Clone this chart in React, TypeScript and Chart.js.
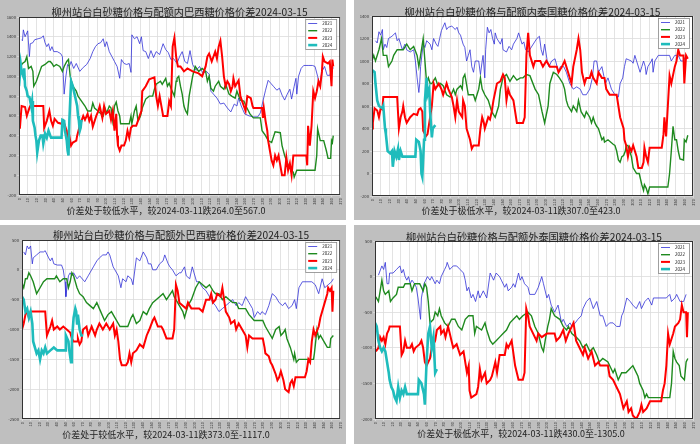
import React, { useEffect, useRef } from "react";
import { Chart, registerables } from "chart.js";
Chart.register(...registerables);

// ---------- shared categories ----------
const SERIES_NAMES = ["2021", "2022", "2023", "2024"];
const SERIES_COLORS = ["rgba(50,50,215,0.8)", "#1f8a1f", "#ff0000", "#1fbcbc"];
const SERIES_WIDTHS = [1, 1.4, 2, 2.6];
const X_MIN = 0;
const X_MAX = 370;
const X_STEP = 10;

const TITLES = [
  "柳州站台白砂糖价格与配额内巴西糖价格价差2024-03-15",
  "柳州站台白砂糖价格与配额内泰国糖价格价差2024-03-15",
  "柳州站台白砂糖价格与配额外巴西糖价格价差2024-03-15",
  "柳州站台白砂糖价格与配额外泰国糖价格价差2024-03-15",
];
const NOTES = [
  "价差处于较低水平，较2024-03-11跌264.0至567.0",
  "价差处于极低水平，较2024-03-11跌307.0至423.0",
  "价差处于较低水平，较2024-03-11跌373.0至-1117.0",
  "价差处于极低水平，较2024-03-11跌430.0至-1305.0",
];
const Y_RANGES = [
  [-200, 1600, 200],
  [-200, 1400, 200],
  [-2500, 500, 500],
  [-2000, 500, 500],
];

// ---------- data: [day of year, spread] ----------
const TL_2021 = [[3,1370],[4,1360],[5,1470],[7,1400],[9,1440],[10,1460],[12,1200],[13,1330],[16,1340],[18,1370],[22,1380],[26,1390],[28,1410],[30,1340],[32,1300],[34,1330],[36,1260],[38,1300],[40,1250],[44,1250],[48,1230],[50,1200],[52,820],[54,1000],[56,1120],[58,1100],[60,1150],[63,1080],[66,1130],[70,1050],[74,1090],[78,1120],[82,1180],[85,1250],[88,1300],[91,1330],[94,1340],[97,1380],[99,1300],[101,1350],[104,1250],[107,1200],[110,1150],[113,1100],[116,980],[118,1170],[121,1130],[124,1120],[127,1130],[129,1040],[130,1420],[133,1380],[136,1400],[139,1330],[141,1400],[143,1260],[146,1250],[149,1180],[152,1260],[155,1190],[158,1250],[162,1220],[166,1330],[169,1270],[172,1240],[175,1170],[178,1180],[182,1130],[185,1200],[188,1250],[191,1150],[194,1130],[197,1260],[200,1120],[204,1060],[208,1100],[212,1030],[216,1050],[219,1020],[221,850],[224,820],[228,780],[232,720],[236,730],[240,680],[244,640],[248,720],[251,700],[253,780],[256,700],[260,620],[265,600],[270,590],[275,590],[278,630],[281,750],[284,860],[287,960],[290,930],[293,900],[297,860],[300,880],[303,810],[306,760],[309,820],[312,870],[314,770],[317,900],[319,980],[320,820],[322,1000],[325,1080],[328,1110],[333,1110],[338,1110],[341,1100],[344,1000],[346,900],[349,1050],[352,1100],[355,1010],[358,1010],[361,1100],[362,1080]];
const TL_2022 = [[0,1000],[2,1100],[4,1130],[7,1150],[9,1200],[11,1080],[14,1100],[16,1050],[17,900],[20,950],[22,1000],[24,1050],[26,1100],[30,1120],[34,1150],[36,1150],[38,1130],[40,1100],[43,1120],[47,1100],[50,1050],[52,1100],[55,1150],[57,1170],[59,1000],[62,900],[66,850],[68,800],[72,750],[76,700],[79,650],[83,650],[85,730],[87,680],[91,650],[97,600],[99,680],[101,630],[104,700],[106,680],[108,550],[110,700],[112,740],[114,650],[116,600],[117,520],[127,520],[129,600],[130,520],[133,650],[135,700],[137,550],[138,560],[140,600],[142,680],[146,770],[150,800],[154,800],[156,870],[158,920],[163,950],[165,920],[169,980],[171,900],[173,930],[175,880],[179,800],[181,950],[182,980],[184,1000],[186,900],[188,820],[190,700],[192,650],[194,620],[196,800],[200,1000],[203,1100],[207,1050],[211,1080],[215,1050],[217,950],[219,1000],[221,880],[224,850],[226,900],[230,950],[232,900],[236,870],[238,920],[242,820],[245,800],[249,780],[251,850],[255,760],[259,750],[262,690],[266,620],[270,580],[278,580],[280,450],[284,400],[287,350],[291,330],[295,440],[301,430],[303,300],[306,200],[308,150],[310,100],[314,50],[316,30],[317,-20],[320,50],[341,50],[343,200],[344,470],[347,350],[351,350],[354,250],[356,170],[359,170],[360,350],[361,330],[362,400]];
const TL_2023 = [[1,470],[3,700],[7,690],[9,600],[12,680],[13,700],[28,700],[29,480],[32,550],[35,650],[37,550],[39,500],[41,570],[45,530],[49,520],[51,550],[53,500],[55,450],[56,350],[58,400],[60,300],[62,330],[66,350],[67,400],[70,500],[72,550],[74,600],[76,560],[79,620],[81,550],[83,600],[85,490],[89,600],[91,640],[93,700],[95,620],[96,580],[98,700],[100,620],[104,650],[106,560],[108,650],[110,450],[112,620],[113,400],[114,300],[116,250],[118,300],[121,300],[123,350],[125,450],[127,380],[129,480],[131,500],[135,500],[137,550],[139,600],[141,650],[142,850],[146,900],[150,970],[156,990],[158,800],[160,700],[162,800],[163,750],[165,650],[166,600],[171,600],[173,750],[175,700],[177,1300],[179,1390],[181,1200],[183,1100],[186,1100],[190,1050],[194,1080],[200,1050],[207,1030],[211,1000],[213,1050],[215,1100],[217,1200],[219,1230],[222,1150],[226,1250],[228,1180],[230,1300],[232,1360],[234,1200],[236,1000],[238,900],[240,950],[242,920],[244,850],[246,900],[247,980],[249,900],[253,960],[255,800],[257,750],[259,700],[261,650],[263,800],[267,780],[269,700],[270,680],[280,680],[281,580],[282,680],[284,550],[286,450],[287,350],[289,250],[291,150],[293,100],[295,200],[297,150],[299,200],[301,100],[303,0],[306,0],[308,180],[310,50],[312,120],[314,0],[316,200],[331,200],[332,100],[333,500],[335,300],[337,500],[339,850],[341,780],[343,850],[345,950],[347,900],[349,1050],[350,1200],[352,1150],[356,1130],[358,1150],[360,900],[361,1170],[362,1100]];
const TL_2024 = [[0,900],[2,1120],[3,1050],[5,1000],[6,1080],[7,900],[9,850],[10,800],[12,790],[14,700],[15,750],[16,550],[18,480],[19,400],[20,350],[21,230],[23,350],[25,400],[27,400],[28,320],[30,420],[32,380],[34,450],[36,400],[37,380],[49,380],[50,560],[52,550],[53,450],[55,350],[56,250],[57,200],[58,550],[60,950],[62,900],[64,820],[65,780],[67,700],[68,600],[69,550],[70,450],[71,480],[72,560]];

const TR_2021 = [[4,1180],[6,1160],[8,1260],[10,1230],[12,1280],[13,1100],[15,1150],[17,1120],[19,1200],[23,1220],[27,1250],[29,1180],[31,1200],[33,1150],[35,1100],[38,1150],[40,1100],[44,1080],[48,1100],[50,1000],[52,850],[54,720],[55,800],[56,950],[59,1150],[61,1120],[63,1180],[67,1150],[69,1100],[71,1200],[74,1150],[76,1130],[78,1200],[80,1270],[84,1340],[86,1280],[88,1300],[92,1310],[96,1280],[98,1300],[100,1250],[102,1230],[105,1150],[107,1120],[109,1000],[111,1050],[113,1100],[115,950],[117,900],[119,1000],[123,1000],[125,880],[127,1000],[128,1050],[130,850],[131,1100],[133,1300],[135,1250],[137,1280],[139,1200],[141,1150],[142,1250],[144,1200],[148,1150],[150,1200],[151,1100],[155,1080],[158,1130],[161,1100],[163,1150],[167,1200],[169,1250],[171,1200],[173,1150],[175,1170],[177,1100],[180,1080],[190,1200],[193,1220],[195,1100],[197,1050],[199,1150],[202,1000],[204,950],[207,1000],[211,1020],[215,900],[217,950],[221,950],[224,900],[226,850],[228,800],[232,750],[236,770],[240,750],[243,700],[247,700],[251,750],[254,850],[256,1000],[259,1000],[261,900],[265,950],[269,800],[272,850],[276,750],[280,700],[284,680],[286,800],[289,850],[291,950],[293,1020],[299,1000],[301,980],[303,1050],[305,1000],[309,900],[311,950],[313,1000],[315,950],[316,880],[318,950],[322,1000],[323,1020],[324,900],[326,1000],[330,1050],[343,1050],[345,1000],[349,1050],[353,1050],[356,1000],[359,1000],[362,1050]];
const TR_2022 = [[0,1000],[2,1050],[4,1000],[8,1100],[11,1200],[13,1050],[17,1050],[19,950],[23,1000],[25,1050],[29,1100],[33,1100],[36,1100],[40,1150],[44,1100],[48,1130],[52,1050],[54,950],[56,1050],[58,1150],[59,1200],[61,1000],[63,800],[65,850],[67,800],[69,800],[73,850],[76,780],[79,800],[82,780],[86,700],[90,680],[94,750],[96,700],[98,750],[102,780],[104,750],[105,850],[107,880],[111,700],[117,700],[119,650],[121,700],[123,750],[125,850],[127,750],[130,700],[134,650],[138,550],[142,500],[146,600],[148,750],[151,850],[155,880],[159,820],[163,870],[167,830],[171,850],[174,850],[178,880],[182,870],[188,750],[192,700],[196,550],[199,450],[203,600],[205,800],[209,900],[213,880],[216,850],[220,800],[222,750],[224,650],[226,600],[230,550],[232,600],[236,550],[238,650],[241,550],[245,500],[247,550],[251,500],[253,450],[255,500],[257,450],[259,420],[261,400],[263,350],[265,300],[267,320],[268,280],[272,300],[278,260],[280,250],[282,200],[284,120],[286,100],[288,150],[290,160],[292,200],[293,250],[295,250],[297,200],[299,150],[301,50],[305,0],[308,0],[311,-100],[313,-150],[314,-100],[316,-130],[318,-180],[320,-120],[341,-120],[343,0],[345,200],[347,420],[349,300],[351,300],[353,200],[355,130],[359,120],[360,300],[362,280],[364,340]];
const TR_2023 = [[0,400],[1,450],[3,580],[6,560],[8,500],[10,580],[12,570],[13,680],[29,680],[31,400],[33,500],[35,550],[36,600],[38,500],[40,450],[44,500],[48,530],[52,520],[54,570],[56,580],[58,550],[59,380],[61,350],[62,330],[64,350],[67,500],[69,600],[71,800],[73,750],[77,800],[80,750],[82,700],[86,800],[88,750],[92,680],[94,600],[96,500],[98,650],[100,550],[104,500],[105,650],[107,600],[109,400],[113,300],[115,220],[117,250],[123,250],[125,400],[127,500],[129,450],[130,400],[132,450],[134,500],[136,480],[138,550],[140,650],[144,800],[148,820],[151,880],[153,850],[155,650],[157,750],[159,700],[163,650],[165,550],[167,450],[174,450],[176,500],[178,1050],[180,1250],[182,1050],[186,950],[188,1000],[194,1000],[197,950],[201,1000],[205,950],[213,950],[215,900],[219,950],[222,1000],[224,950],[226,900],[230,800],[232,950],[236,1100],[238,1200],[240,1100],[242,900],[245,800],[247,850],[251,850],[253,900],[255,850],[259,800],[261,900],[265,850],[268,850],[270,750],[274,700],[282,700],[284,600],[286,500],[290,400],[291,300],[293,250],[295,150],[297,230],[299,200],[301,250],[303,200],[305,150],[307,50],[311,50],[313,100],[314,230],[316,150],[318,100],[320,230],[334,230],[336,350],[337,500],[339,330],[341,600],[343,870],[345,800],[349,950],[351,1000],[353,1100],[355,1050],[359,1050],[360,800],[362,1050],[364,1020]];
const TR_2024 = [[0,920],[3,900],[4,800],[6,650],[8,600],[12,580],[13,600],[15,400],[16,350],[18,200],[21,180],[23,200],[24,60],[26,200],[28,150],[30,220],[31,120],[33,200],[35,150],[50,150],[51,300],[54,280],[56,200],[57,0],[58,-30],[60,300],[61,650],[63,850],[64,700],[66,750],[67,550],[69,320],[70,400],[73,430]];

const BL_2021 = [[2,300],[4,250],[6,400],[8,350],[10,400],[12,100],[13,200],[17,250],[21,300],[25,300],[27,320],[31,200],[33,150],[35,200],[37,100],[41,80],[46,80],[48,0],[50,-200],[51,-450],[54,-100],[56,-50],[58,-100],[60,-50],[64,-150],[67,-100],[73,-200],[77,-100],[79,-50],[83,50],[87,150],[90,200],[94,250],[98,250],[100,300],[102,250],[106,50],[108,0],[112,-100],[115,-300],[117,-150],[121,-200],[123,-100],[127,-150],[129,-250],[133,200],[137,150],[141,300],[145,200],[147,100],[150,100],[152,0],[156,0],[160,100],[164,150],[166,250],[170,100],[172,50],[175,0],[179,-100],[183,-50],[185,-50],[187,0],[189,50],[191,-100],[195,-150],[198,50],[200,-50],[203,-200],[206,-200],[210,-300],[214,-350],[218,-450],[222,-550],[225,-600],[229,-700],[233,-650],[237,-600],[241,-550],[245,-500],[249,-600],[252,-550],[256,-600],[260,-450],[264,-550],[268,-650],[270,-800],[274,-700],[277,-750],[279,-700],[283,-750],[287,-600],[289,-500],[291,-400],[295,-450],[299,-550],[303,-600],[306,-550],[310,-650],[314,-600],[317,-500],[319,-650],[322,-300],[326,-200],[337,-200],[341,-250],[345,-400],[349,-150],[352,-300],[356,-250],[360,-200],[362,-150]];
const BL_2022 = [[0,-225],[2,-300],[4,-150],[6,-150],[8,-50],[10,-100],[13,-200],[15,-300],[17,-400],[21,-300],[25,-200],[29,-150],[38,-150],[40,-100],[44,-200],[48,-150],[52,-150],[54,-300],[56,-200],[58,-50],[60,-100],[64,-300],[67,-400],[71,-450],[75,-550],[79,-600],[83,-650],[87,-550],[90,-650],[96,-850],[100,-750],[104,-700],[108,-800],[114,-950],[123,-950],[127,-800],[129,-750],[133,-900],[137,-850],[141,-700],[145,-750],[148,-650],[152,-550],[156,-500],[160,-450],[164,-400],[168,-500],[175,-350],[177,-450],[179,-500],[183,-600],[187,-700],[189,-800],[193,-600],[197,-500],[202,-300],[206,-200],[210,-250],[214,-300],[218,-250],[222,-350],[225,-400],[229,-400],[233,-500],[237,-450],[241,-500],[245,-550],[249,-550],[252,-650],[260,-650],[264,-750],[270,-850],[280,-850],[283,-950],[287,-1050],[291,-1150],[295,-1000],[299,-950],[301,-1100],[304,-1050],[306,-1000],[308,-1150],[312,-1300],[314,-1400],[316,-1500],[317,-1400],[319,-1550],[322,-1500],[339,-1500],[340,-1400],[343,-1000],[345,-1150],[347,-1100],[351,-1200],[355,-1300],[358,-1300],[359,-1150],[362,-1100]];
const BL_2023 = [[0,-1000],[2,-900],[4,-750],[6,-700],[8,-800],[10,-700],[27,-700],[29,-1100],[33,-950],[35,-850],[37,-1000],[41,-950],[44,-1000],[48,-950],[52,-1000],[56,-1050],[58,-1150],[60,-1200],[64,-1200],[65,-1150],[67,-1250],[69,-1200],[71,-1000],[75,-950],[77,-1100],[81,-950],[85,-1100],[87,-1000],[90,-900],[94,-1000],[98,-900],[102,-1000],[106,-900],[108,-1100],[110,-1000],[112,-1200],[114,-1500],[116,-1600],[121,-1600],[123,-1550],[125,-1400],[127,-1550],[129,-1400],[133,-1350],[137,-1250],[141,-1300],[145,-1100],[148,-1000],[152,-850],[154,-800],[158,-950],[162,-950],[164,-1000],[168,-1150],[175,-1150],[177,-1000],[179,-250],[181,-350],[183,-550],[187,-600],[191,-650],[193,-550],[197,-650],[206,-650],[210,-700],[214,-500],[218,-500],[220,-400],[222,-550],[225,-500],[227,-400],[231,-450],[233,-300],[237,-700],[241,-800],[243,-900],[247,-850],[249,-1000],[252,-900],[256,-1000],[260,-1100],[262,-1300],[264,-1100],[268,-1150],[280,-1150],[282,-1300],[283,-1400],[287,-1450],[289,-1550],[291,-1600],[295,-1750],[297,-1850],[299,-1800],[301,-1700],[304,-1850],[306,-2000],[310,-2050],[312,-1900],[314,-1850],[316,-1950],[318,-1800],[320,-1800],[329,-1800],[331,-1700],[333,-1500],[335,-1550],[337,-1200],[339,-1000],[341,-1100],[345,-950],[347,-800],[351,-600],[355,-400],[356,-300],[358,-350],[360,-300],[361,-700],[362,-350]];
const BL_2024 = [[0,-450],[2,-500],[4,-700],[6,-650],[8,-800],[10,-700],[12,-900],[13,-1200],[15,-1300],[17,-1400],[19,-1350],[21,-1500],[23,-1350],[25,-1400],[27,-1300],[29,-1400],[33,-1350],[37,-1300],[41,-1350],[50,-1350],[51,-1100],[54,-1200],[55,-1350],[57,-1550],[58,-1200],[60,-800],[62,-650],[63,-700],[64,-900],[65,-750],[67,-1000],[69,-1100],[71,-1100]];

const BR_2021 = [[4,20],[8,150],[10,100],[12,200],[14,-100],[16,-100],[17,50],[21,50],[25,100],[29,150],[31,50],[33,100],[35,0],[37,-50],[39,0],[41,-100],[43,-50],[46,-100],[48,-150],[50,-300],[53,-600],[54,-300],[57,-100],[59,-50],[61,0],[64,-50],[66,0],[70,-100],[72,-50],[75,-100],[77,0],[81,100],[83,150],[84,200],[87,100],[91,150],[95,150],[99,100],[103,50],[105,-50],[107,-200],[109,-150],[112,-300],[114,-250],[117,-350],[118,-300],[120,-200],[122,-300],[126,-200],[128,-250],[130,-300],[134,50],[136,0],[138,-50],[141,50],[145,0],[147,-50],[151,-150],[153,-100],[155,-200],[159,-150],[161,-100],[163,-150],[167,50],[169,-50],[171,0],[174,-100],[178,-150],[180,-250],[186,-250],[190,-150],[194,0],[196,-100],[200,-300],[202,-250],[205,-400],[207,-450],[209,-500],[213,-400],[217,-650],[219,-600],[223,-700],[227,-650],[229,-700],[233,-650],[236,-600],[240,-550],[242,-450],[246,-350],[250,-300],[254,-450],[258,-350],[262,-550],[265,-550],[269,-700],[273,-650],[277,-650],[281,-700],[285,-700],[287,-550],[289,-500],[293,-300],[297,-350],[300,-400],[304,-450],[308,-350],[310,-450],[314,-350],[318,-300],[322,-400],[324,-300],[339,-300],[343,-250],[345,-350],[349,-300],[351,-250],[355,-350],[359,-350],[362,-250]];
const BR_2022 = [[1,-285],[4,-350],[6,-200],[8,-50],[10,-200],[12,-250],[16,-200],[18,-350],[21,-300],[25,-250],[27,-150],[33,-150],[35,-100],[41,-100],[43,-200],[46,-100],[52,-100],[54,-150],[56,-200],[58,-100],[60,-150],[62,-350],[64,-650],[68,-600],[70,-500],[73,-550],[75,-450],[77,-550],[81,-650],[85,-700],[89,-600],[93,-600],[97,-700],[101,-750],[105,-600],[109,-550],[114,-550],[116,-800],[118,-700],[124,-750],[126,-700],[128,-650],[130,-750],[134,-900],[137,-950],[141,-900],[145,-850],[149,-800],[153,-750],[157,-650],[161,-600],[165,-550],[168,-600],[172,-550],[178,-500],[182,-550],[186,-700],[190,-800],[194,-1000],[196,-1050],[198,-900],[201,-700],[203,-600],[205,-450],[209,-550],[215,-600],[219,-700],[223,-750],[225,-700],[229,-800],[234,-850],[238,-900],[242,-1000],[246,-950],[250,-1050],[254,-1000],[258,-1100],[261,-1200],[265,-1150],[271,-1200],[277,-1350],[279,-1300],[283,-1450],[287,-1350],[292,-1350],[296,-1300],[300,-1250],[302,-1300],[306,-1400],[308,-1500],[312,-1600],[314,-1700],[316,-1650],[318,-1700],[343,-1700],[345,-1500],[347,-1050],[349,-1150],[351,-1200],[354,-1250],[356,-1400],[360,-1450],[362,-1200],[364,-1150]];
const BR_2023 = [[1,-1050],[4,-1000],[6,-850],[8,-900],[10,-850],[12,-950],[14,-800],[16,-750],[17,-700],[29,-700],[31,-1100],[33,-1050],[35,-900],[37,-1000],[41,-1000],[43,-950],[45,-1050],[47,-1000],[52,-950],[54,-900],[56,-1000],[58,-1200],[60,-1250],[64,-1150],[66,-1000],[70,-900],[72,-750],[76,-700],[77,-800],[80,-750],[82,-850],[85,-700],[87,-800],[89,-900],[91,-1000],[95,-950],[99,-1100],[103,-1050],[105,-1200],[107,-1350],[109,-1250],[110,-1600],[112,-1700],[118,-1650],[120,-1550],[122,-1300],[124,-1450],[128,-1350],[130,-1500],[134,-1450],[136,-1400],[140,-1200],[142,-1350],[145,-1100],[151,-1100],[153,-950],[155,-1000],[159,-900],[163,-1250],[167,-1450],[172,-1450],[174,-1350],[176,-450],[178,-550],[180,-700],[184,-800],[188,-900],[190,-800],[194,-850],[200,-800],[209,-800],[211,-900],[215,-850],[219,-750],[222,-900],[225,-800],[229,-700],[231,-650],[234,-900],[238,-1000],[242,-1100],[244,-1000],[248,-1150],[252,-1050],[256,-1250],[260,-1200],[262,-1250],[271,-1250],[273,-1400],[277,-1450],[281,-1550],[285,-1650],[289,-1850],[293,-1750],[295,-1900],[298,-1850],[300,-1950],[304,-2000],[308,-1900],[310,-1800],[312,-1900],[316,-1850],[320,-1750],[333,-1750],[335,-1600],[337,-1500],[339,-1250],[341,-800],[343,-950],[347,-800],[349,-700],[353,-650],[355,-600],[357,-400],[359,-500],[362,-500],[363,-850],[364,-500]];
const BR_2024 = [[0,-650],[2,-700],[4,-900],[6,-1000],[8,-1050],[10,-1000],[12,-1050],[14,-1200],[16,-1350],[17,-1450],[19,-1550],[21,-1600],[23,-1700],[25,-1750],[27,-1550],[29,-1700],[31,-1600],[33,-1650],[35,-1550],[37,-1650],[50,-1650],[51,-1450],[54,-1500],[57,-1650],[58,-1800],[60,-1200],[62,-800],[64,-700],[66,-1000],[68,-850],[70,-1350],[72,-1300]];

const PANEL_DATA = [
  [TL_2021, TL_2022, TL_2023, TL_2024],
  [TR_2021, TR_2022, TR_2023, TR_2024],
  [BL_2021, BL_2022, BL_2023, BL_2024],
  [BR_2021, BR_2022, BR_2023, BR_2024],
];

// ---------- layout (presentation only) ----------
const GEOM = [
  { x: 0, y: 0, w: 346, h: 220, l: 19, r: 342, t: 17, b: 195, ty: 12, ny: 211, nx: 166 },
  { x: 354, y: 0, w: 346, h: 220, l: 18, r: 339, t: 16, b: 196, ty: 12, ny: 211, nx: 167 },
  { x: 0, y: 225, w: 346, h: 219, l: 22, r: 342, t: 15, b: 194, ty: 10, ny: 210, nx: 166 },
  { x: 354, y: 225, w: 346, h: 219, l: 21, r: 339, t: 16, b: 194, ty: 12, ny: 209, nx: 167 },
];

const FONT = '"Noto Sans CJK SC", "Noto Sans", sans-serif';

function makeDeco(idx: number) {
  const g = GEOM[idx];
  return {
    id: "deco" + idx,
    beforeDraw(chart: any) {
      const { ctx, chartArea: a, width, height } = chart;
      ctx.save();
      ctx.fillStyle = "#bfbfbf";
      ctx.fillRect(0, 0, width, height);
      ctx.fillStyle = "#ffffff";
      ctx.fillRect(a.left, a.top, a.right - a.left, a.bottom - a.top);
      ctx.restore();
    },
    afterDatasetsDraw(chart: any) {
      const { ctx, chartArea: a } = chart;
      ctx.save();
      ctx.strokeStyle = "#333";
      ctx.lineWidth = 1;
      ctx.strokeRect(a.left + 0.5, a.top + 0.5, a.right - a.left - 1, a.bottom - a.top - 1);
      // legend
      const bw = 31, bh = 30;
      const bx = a.right - 4 - bw, by = a.top + 2;
      ctx.fillStyle = "#fff";
      ctx.fillRect(bx, by, bw, bh);
      ctx.strokeStyle = "#888";
      ctx.lineWidth = 0.8;
      ctx.strokeRect(bx + 0.5, by + 0.5, bw, bh);
      ctx.font = "4.5px " + FONT;
      ctx.textBaseline = "middle";
      for (let i = 0; i < SERIES_NAMES.length; i++) {
        const yy = by + 4.5 + i * 7.2;
        ctx.strokeStyle = SERIES_COLORS[i];
        ctx.lineWidth = SERIES_WIDTHS[i];
        ctx.beginPath();
        ctx.moveTo(bx + 3, yy);
        ctx.lineTo(bx + 12, yy);
        ctx.stroke();
        ctx.fillStyle = "#222";
        ctx.fillText(SERIES_NAMES[i], bx + 17, yy);
      }
      ctx.restore();
    },
    afterDraw(chart: any) {
      const { ctx, chartArea: a } = chart;
      ctx.save();
      ctx.fillStyle = "#222";
      ctx.textAlign = "center";
      ctx.textBaseline = "middle";
      ctx.font = "10.2px " + FONT;
      ctx.fillText(TITLES[idx], (a.left + a.right) / 2, g.ty);
      ctx.font = "9px " + FONT;
      ctx.fillText(NOTES[idx], g.nx, g.ny);
      ctx.restore();
    },
  };
}

function Panel({ idx }: { idx: number }) {
  const ref = useRef<HTMLCanvasElement | null>(null);
  useEffect(() => {
    const g = GEOM[idx];
    const [yMin, yMax, yStep] = Y_RANGES[idx];
    const series = PANEL_DATA[idx];
    const datasets = series.map((pts, i) => ({
      label: SERIES_NAMES[i],
      data: pts.map((p) => ({ x: p[0], y: p[1] })),
      borderColor: SERIES_COLORS[i],
      borderWidth: SERIES_WIDTHS[i],
      pointRadius: 0,
      fill: false,
      tension: 0,
      order: 3 - i,
    }));
    const chart = new Chart(ref.current as HTMLCanvasElement, {
      type: "line",
      data: { datasets },
      options: {
        animation: false,
        responsive: false,
        devicePixelRatio: 1,
        events: [],
        layout: { padding: { left: 0, top: g.t, right: g.w - g.r, bottom: 0 } },
        plugins: { legend: { display: false }, title: { display: false }, tooltip: { enabled: false } },
        scales: {
          x: {
            type: "linear",
            min: X_MIN,
            max: X_MAX,
            ticks: {
              stepSize: X_STEP,
              autoSkip: false,
              minRotation: 90,
              maxRotation: 90,
              font: { size: 4, family: FONT },
              color: "#333",
              padding: 1,
              callback: (v: any) => String(v),
            },
            grid: { color: "#dcdcdc", lineWidth: 0.8, tickLength: 2 },
            border: { display: false },
            afterFit: (s: any) => {
              s.height = g.h - g.b;
            },
          },
          y: {
            min: yMin,
            max: yMax,
            ticks: {
              stepSize: yStep,
              font: { size: 4.2, family: FONT },
              color: "#333",
              padding: 1,
              callback: (v: any) => String(v),
            },
            grid: { color: "#dcdcdc", lineWidth: 0.8, tickLength: 2 },
            border: { display: false },
            afterFit: (s: any) => {
              s.width = g.l;
            },
          },
        },
      },
      plugins: [makeDeco(idx)],
    } as any);
    return () => chart.destroy();
  }, [idx]);
  const g = GEOM[idx];
  return (
    <div style={{ position: "absolute", left: g.x, top: g.y, width: g.w, height: g.h }}>
      <canvas ref={ref} width={g.w} height={g.h} style={{ display: "block", width: g.w, height: g.h }} />
    </div>
  );
}

export default function App() {
  return (
    <div style={{ position: "fixed", left: 0, top: 0, width: 700, height: 444, background: "#fff", overflow: "hidden" }}>
      {[0, 1, 2, 3].map((i) => (
        <Panel key={i} idx={i} />
      ))}
    </div>
  );
}
